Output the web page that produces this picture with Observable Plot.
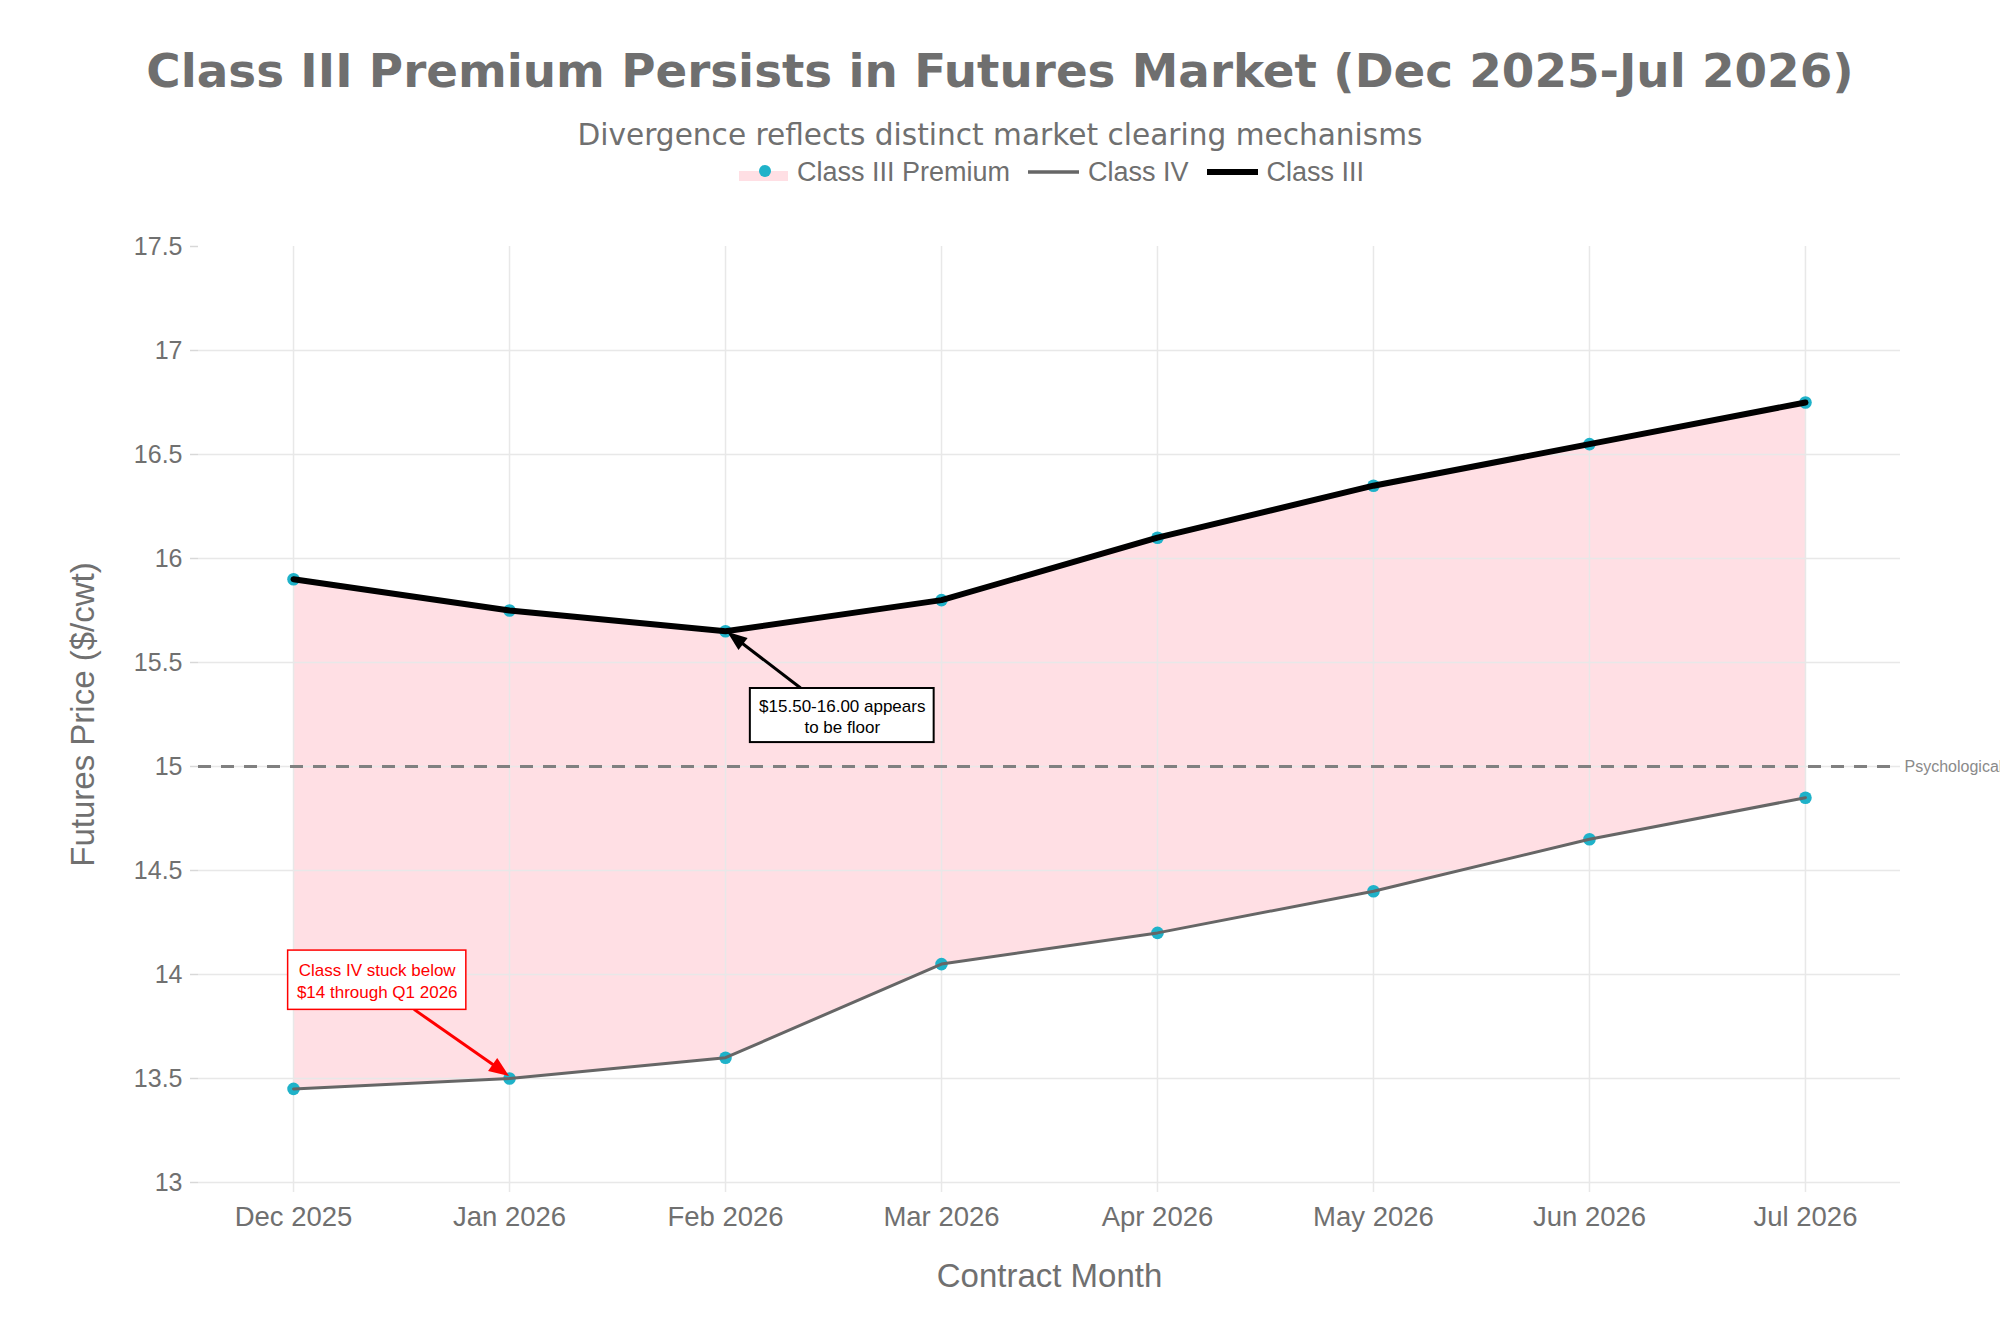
<!DOCTYPE html>
<html>
<head>
<meta charset="utf-8">
<script src="https://cdn.jsdelivr.net/npm/d3@7"></script>
<script src="https://cdn.jsdelivr.net/npm/@observablehq/plot@0.6"></script>
<style>
  html, body { margin: 0; padding: 0; background: #fff; }
  #wrap { position: relative; width: 2000px; height: 1333px; overflow: hidden; background: #fff; }
  #title { position: absolute; left: 0; width: 2000px; top: 45px; text-align: center;
    font-family: "DejaVu Sans", sans-serif; font-weight: bold; font-size: 46.8px; line-height: 52px; color: #6f6f6f; }
  #subtitle { position: absolute; left: 0; width: 2000px; top: 119px; text-align: center;
    font-family: "DejaVu Sans", sans-serif; font-size: 29.6px; line-height: 32px; color: #707070; }
  #legend { position: absolute; left: 739px; top: 157px; height: 30px; display: flex; align-items: center;
    font-family: "Liberation Sans", Arial, sans-serif; font-size: 27px; color: #6f6f6f; }
  .item { display: flex; align-items: center; margin-right: 18px; }
  .item svg { margin-right: 9px; }
  #chart { position: absolute; left: 0; top: 195px; }
</style>
</head>
<body>
<div id="wrap">
  <div id="title"></div>
  <div id="subtitle"></div>
  <div id="legend"></div>
  <div id="chart"></div>
</div>
<script>
// ---- data ----
const months = ["Dec 2025", "Jan 2026", "Feb 2026", "Mar 2026", "Apr 2026", "May 2026", "Jun 2026", "Jul 2026"];
const classIII = [15.90, 15.75, 15.65, 15.80, 16.10, 16.35, 16.55, 16.75];
const classIV  = [13.45, 13.50, 13.60, 14.05, 14.20, 14.40, 14.65, 14.85];
const yTicks = [13, 13.5, 14, 14.5, 15, 15.5, 16, 16.5, 17, 17.5];
const refLevel = 15;
const refLabel = "Psychological floor";
const titleText = "Class III Premium Persists in Futures Market (Dec 2025-Jul 2026)";
const subtitleText = "Divergence reflects distinct market clearing mechanisms";
const legendLabels = ["Class III Premium", "Class IV", "Class III"];
const xTitle = "Contract Month";
const yTitle = "Futures Price ($/cwt)";
const noteFloor = {text: "$15.50-16.00 appears\nto be floor", x1: 2.115, x2: 2.966, y1: 15.115, y2: 15.375, fromX: 2.35, fromY: 15.375, toX: 2.01, toY: 15.645};
const noteIV = {text: "Class IV stuck below\n$14 through Q1 2026", x1: -0.025, x2: 0.80, y1: 13.83, y2: 14.115, fromX: 0.56, fromY: 13.83, toX: 1.0, toY: 13.51};

const rows = months.map((m, i) => ({i, month: m, iii: classIII[i], iv: classIV[i]}));

const PINK = "#ffdfe4";
const CYAN = "#1fb2c9";
const GRID = "#e8e8e8";
const TXT = "#707070";
const AXFONT = "'Liberation Sans', Arial, sans-serif";

document.getElementById("title").textContent = titleText;
document.getElementById("subtitle").textContent = subtitleText;

// legend
const legend = d3.select("#legend");
const it1 = legend.append("div").attr("class", "item");
const s1 = it1.append("svg").attr("width", 49).attr("height", 24);
s1.append("rect").attr("x", 0).attr("y", 11).attr("width", 49).attr("height", 10).attr("fill", PINK);
s1.append("circle").attr("cx", 26).attr("cy", 11).attr("r", 6).attr("fill", CYAN);
it1.append("span").text(legendLabels[0]);
const it2 = legend.append("div").attr("class", "item");
const s2 = it2.append("svg").attr("width", 51).attr("height", 24);
s2.append("line").attr("x1", 0).attr("x2", 51).attr("y1", 12).attr("y2", 12).attr("stroke", "#666").attr("stroke-width", 3.5);
it2.append("span").text(legendLabels[1]);
const it3 = legend.append("div").attr("class", "item");
const s3 = it3.append("svg").attr("width", 51).attr("height", 24);
s3.append("line").attr("x1", 0).attr("x2", 51).attr("y1", 12).attr("y2", 12).attr("stroke", "#000").attr("stroke-width", 6);
it3.append("span").text(legendLabels[2]);

// filled-head arrow drawn through the plot's scales
function arrowMark(note, color, width, headLen, headW) {
  return (index, scales) => {
    const x1 = scales.x(note.fromX), y1 = scales.y(note.fromY);
    const x2 = scales.x(note.toX), y2 = scales.y(note.toY);
    const a = Math.atan2(y2 - y1, x2 - x1);
    const bx = x2 - headLen * Math.cos(a), by = y2 - headLen * Math.sin(a);
    const px = -Math.sin(a) * headW / 2, py = Math.cos(a) * headW / 2;
    const g = d3.create("svg:g");
    g.append("line").attr("x1", x1).attr("y1", y1).attr("x2", bx + Math.cos(a) * 2).attr("y2", by + Math.sin(a) * 2)
      .attr("stroke", color).attr("stroke-width", width);
    g.append("path").attr("d", `M${x2},${y2}L${bx + px},${by + py}L${bx - px},${by - py}Z`).attr("fill", color);
    return g.node();
  };
}

const plot = Plot.plot({
  width: 2000,
  height: 1138,
  marginTop: 51,
  marginBottom: 151,
  marginLeft: 198,
  marginRight: 100,
  style: {fontFamily: AXFONT, fontSize: "24px", color: TXT, background: "transparent", overflow: "visible"},
  x: {domain: [-0.44, months.length - 1 + 0.44]},
  y: {domain: [13, 17.5]},
  marks: [
    Plot.areaY(rows, {x: "i", y1: "iv", y2: "iii", fill: PINK}),
    Plot.gridX(d3.range(months.length), {stroke: GRID, strokeOpacity: 1, strokeWidth: 1.5}),
    Plot.gridY(yTicks.slice(0, -1), {stroke: GRID, strokeOpacity: 1, strokeWidth: 1.5}),
    Plot.axisX(d3.range(months.length), {tickFormat: i => months[i], tickSize: 10, tickPadding: 14, stroke: GRID, strokeWidth: 1.5, fill: TXT, fontSize: 27.5, label: null}),
    Plot.axisY(yTicks, {tickFormat: d => String(d), tickSize: 8, tickPadding: 8, stroke: "#d8d8d8", strokeWidth: 1.5, fill: TXT, fontSize: 25, label: null}),
    Plot.text([xTitle], {frameAnchor: "bottom", lineAnchor: "middle", dy: 94, fill: TXT, fontSize: 33}),
    Plot.text([yTitle], {frameAnchor: "left", textAnchor: "middle", dx: -115, rotate: -90, fill: TXT, fontSize: 33}),
    Plot.ruleY([refLevel], {stroke: "#808080", strokeWidth: 3, strokeDasharray: "13,10"}),
    Plot.text([refLabel], {frameAnchor: "right", y: () => refLevel, dx: 4, textAnchor: "start", fill: "#8a8a8a", fontSize: 16}),
    Plot.dot(rows, {x: "i", y: "iv", r: 6.3, fill: CYAN}),
    Plot.dot(rows, {x: "i", y: "iii", r: 6.3, fill: CYAN}),
    Plot.line(rows, {x: "i", y: "iv", stroke: "#666", strokeWidth: 3}),
    Plot.line(rows, {x: "i", y: "iii", stroke: "#000", strokeWidth: 6}),
    // annotations
    arrowMark(noteFloor, "#000", 3, 20, 15),
    Plot.rect([noteFloor], {x1: "x1", x2: "x2", y1: "y1", y2: "y2", fill: "#fff", stroke: "#000", strokeWidth: 2}),
    Plot.text([noteFloor], {x: d => (d.x1 + d.x2) / 2, y: d => (d.y1 + d.y2) / 2, text: "text", fill: "#000", fontSize: 17, lineHeight: 1.25}),
    arrowMark(noteIV, "#ff0000", 3, 20, 16),
    Plot.rect([noteIV], {x1: "x1", x2: "x2", y1: "y1", y2: "y2", fill: "#fff", stroke: "#ff0000", strokeWidth: 1.5}),
    Plot.text([noteIV], {x: d => (d.x1 + d.x2) / 2, y: d => (d.y1 + d.y2) / 2, text: "text", fill: "#ff0000", fontSize: 17, lineHeight: 1.25})
  ]
});
document.getElementById("chart").appendChild(plot);
</script>
</body>
</html>
